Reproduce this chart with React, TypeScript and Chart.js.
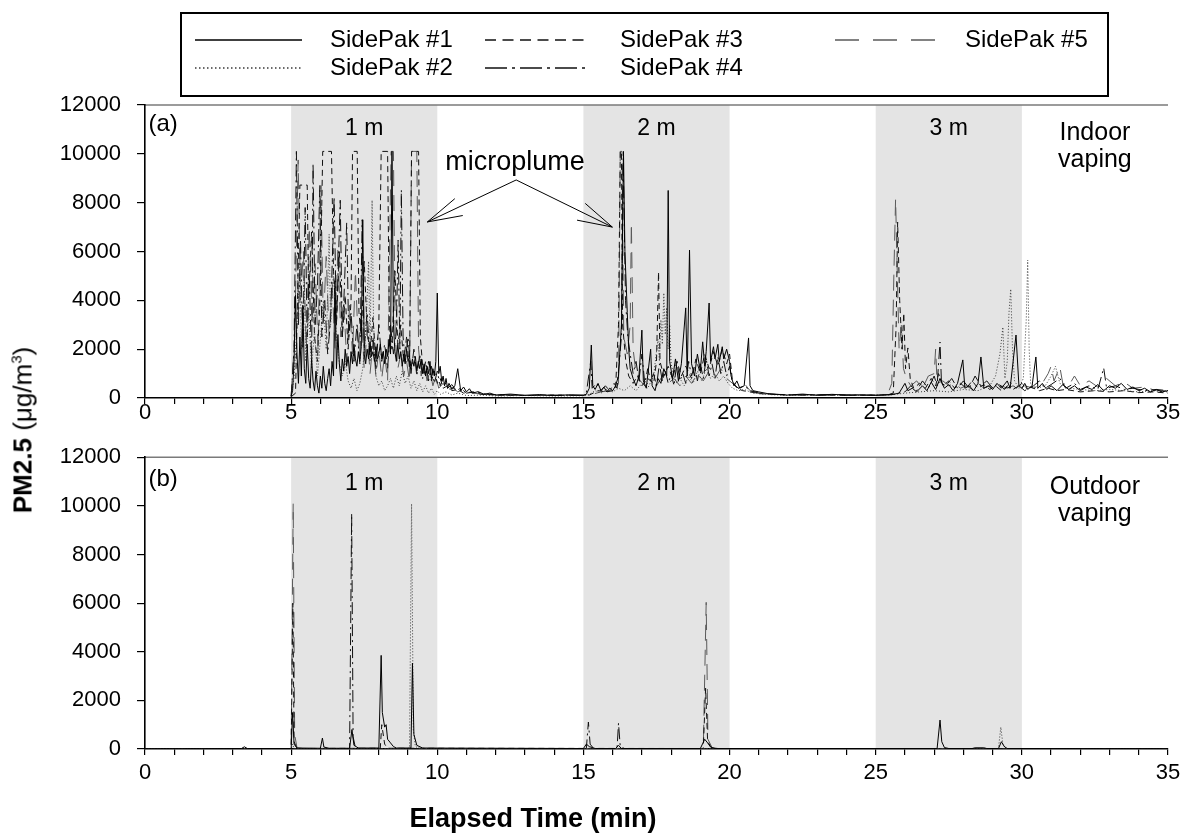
import React, { useEffect, useRef } from "react";
import { Chart, registerables } from "chart.js";

Chart.register(...registerables);

type Pt = [number, number];

// ---------------- data ----------------
const seriesNames = ["SidePak #1", "SidePak #2", "SidePak #3", "SidePak #4", "SidePak #5"];
const xMajorTicks = [0, 5, 10, 15, 20, 25, 30, 35];
const yTickValues = [0, 2000, 4000, 6000, 8000, 10000, 12000];
const bandRanges: Pt[] = [[5, 10], [15, 20], [25, 30]];
const bandLabels = ["1 m", "2 m", "3 m"];
const panelTags = ["(a)", "(b)"];
const indoorText = ["Indoor", "vaping"];
const outdoorText = ["Outdoor", "vaping"];
const calloutText = "microplume";
const xTitle = "Elapsed Time (min)";

// (a) indoor vaping — [minute, PM2.5 µg/m3]
const indoor1: Pt[] = [
  [5.0, 80], [5.05, 300], [5.1, 1500], [5.15, 4200], [5.2, 1800], [5.25, 600], [5.3, 2500], [5.35, 900], [5.4, 3800], [5.45, 1200],
  [5.5, 600], [5.55, 2200], [5.6, 800], [5.65, 400], [5.7, 1600], [5.75, 700], [5.8, 300], [5.85, 1100], [5.9, 500], [5.95, 200],
  [6.0, 900], [6.05, 400], [6.1, 1300], [6.15, 600], [6.2, 300], [6.25, 800], [6.3, 1200], [6.35, 500], [6.4, 1500], [6.45, 900],
  [6.5, 4800], [6.55, 1200], [6.6, 2600], [6.65, 1400], [6.7, 700], [6.75, 1600], [6.8, 1100], [6.85, 2000], [6.9, 1300], [6.95, 1700],
  [7.0, 1000], [7.05, 1900], [7.1, 1400], [7.15, 2200], [7.2, 1600], [7.25, 1300], [7.3, 1900], [7.35, 1500], [7.4, 2100], [7.45, 7300],
  [7.5, 1800], [7.55, 1400], [7.6, 2000], [7.65, 1600], [7.7, 2300], [7.75, 1700], [7.8, 1900], [7.85, 1500], [7.9, 2100], [7.95, 1600],
  [8.0, 1800], [8.05, 2200], [8.1, 1600], [8.15, 1900], [8.2, 1400], [8.25, 2000], [8.3, 1700], [8.35, 2400], [8.4, 1800], [8.45, 10100],
  [8.5, 3000], [8.55, 1900], [8.6, 1500], [8.65, 2200], [8.7, 1600], [8.75, 1900], [8.8, 1300], [8.85, 1800], [8.9, 1400], [8.95, 2000],
  [9.0, 1500], [9.05, 1700], [9.1, 1200], [9.15, 1600], [9.2, 1300], [9.25, 1700], [9.3, 1100], [9.35, 1500], [9.4, 1200], [9.45, 1600],
  [9.5, 1000], [9.55, 1400], [9.6, 900], [9.65, 1300], [9.7, 1000], [9.75, 1500], [9.8, 800], [9.85, 1200], [9.9, 900], [9.95, 1500],
  [10.0, 4300], [10.05, 1000], [10.1, 1300], [10.15, 700], [10.2, 900], [10.25, 500], [10.3, 800], [10.35, 400], [10.4, 600], [10.5, 350],
  [10.6, 500], [10.7, 1200], [10.8, 300], [10.9, 450], [11.0, 250], [11.1, 380], [11.2, 200], [11.4, 260], [11.6, 150], [11.8, 200],
  [12.0, 120], [12.5, 160], [13.0, 110], [13.5, 140], [14.0, 100], [14.5, 130], [15.0, 120],
  [15.1, 150], [15.2, 400], [15.27, 2170], [15.32, 500], [15.4, 350], [15.5, 600], [15.6, 300], [15.7, 450], [15.8, 250], [15.9, 400],
  [16.0, 300], [16.1, 500], [16.2, 900], [16.3, 3000], [16.37, 10100], [16.42, 6000], [16.5, 3500], [16.55, 2000], [16.6, 1200], [16.7, 800],
  [16.8, 500], [16.9, 900], [17.0, 2780], [17.05, 700], [17.15, 400], [17.3, 2000], [17.35, 500], [17.45, 300], [17.55, 800], [17.65, 600],
  [17.75, 1200], [17.85, 900], [17.9, 8500], [17.95, 1500], [18.05, 800], [18.15, 1600], [18.25, 700], [18.35, 1400], [18.5, 3690], [18.55, 900],
  [18.63, 6060], [18.7, 1400], [18.8, 900], [18.9, 1800], [19.0, 1100], [19.08, 2300], [19.15, 1300], [19.2, 1900], [19.3, 3890], [19.35, 1500],
  [19.45, 2100], [19.5, 1600], [19.6, 2200], [19.65, 1500], [19.75, 2100], [19.8, 1600], [19.9, 2000], [20.0, 1500], [20.05, 900], [20.15, 500],
  [20.25, 700], [20.35, 400], [20.5, 500], [20.65, 2460], [20.7, 500], [20.8, 300], [21.0, 250], [21.3, 180], [21.6, 150], [22.0, 120],
  [22.5, 160], [23.0, 110], [23.5, 150], [24.0, 120], [24.5, 130], [25.0, 110],
  [25.3, 130], [25.6, 150], [25.8, 200], [26.0, 600], [26.1, 300], [26.25, 400], [26.4, 250], [26.6, 500], [26.75, 300], [26.9, 650],
  [27.05, 350], [27.2, 800], [27.35, 400], [27.5, 550], [27.65, 300], [27.8, 600], [27.98, 1560], [28.05, 400], [28.2, 500], [28.35, 300],
  [28.5, 600], [28.6, 1680], [28.7, 400], [28.85, 500], [29.0, 350], [29.15, 600], [29.3, 400], [29.5, 700], [29.6, 400], [29.8, 2580],
  [29.9, 500], [30.0, 400], [30.1, 600], [30.2, 350], [30.35, 500], [30.48, 1680], [30.55, 400], [30.7, 600], [30.85, 350], [31.0, 500],
  [31.2, 300], [31.4, 550], [31.6, 350], [31.8, 500], [32.0, 300], [32.2, 450], [32.4, 350], [32.6, 550], [32.8, 300], [33.0, 500],
  [33.2, 400], [33.4, 600], [33.6, 350], [33.8, 450], [34.0, 300], [34.2, 400], [34.4, 250], [34.6, 350], [34.8, 250], [35.0, 300],
];

const indoor2: Pt[] = [
  [5.0, 60], [5.1, 800], [5.2, 3000], [5.3, 5500], [5.35, 2000], [5.45, 4800], [5.5, 1500], [5.6, 3500], [5.7, 1200], [5.8, 2800],
  [5.9, 900], [6.0, 2400], [6.1, 4000], [6.2, 2000], [6.3, 6700], [6.35, 3000], [6.45, 5200], [6.55, 2500], [6.65, 1400], [6.75, 900],
  [6.85, 1500], [6.95, 700], [7.05, 400], [7.15, 800], [7.25, 300], [7.35, 600], [7.45, 1200], [7.55, 2600], [7.65, 5600], [7.7, 2000],
  [7.77, 8100], [7.82, 3000], [7.9, 900], [8.0, 500], [8.1, 700], [8.2, 300], [8.3, 500], [8.4, 800], [8.5, 400], [8.6, 900],
  [8.7, 500], [8.8, 1100], [8.9, 600], [9.0, 900], [9.1, 400], [9.2, 700], [9.3, 300], [9.4, 600], [9.5, 250], [9.6, 500],
  [9.7, 200], [9.8, 400], [9.9, 150], [10.0, 300], [10.1, 150], [10.3, 250], [10.5, 120], [10.7, 200], [11.0, 100], [11.5, 120],
  [12.0, 80], [13.0, 100], [14.0, 80], [15.0, 90],
  [15.2, 150], [15.4, 300], [15.6, 200], [15.8, 350], [16.0, 250], [16.2, 400], [16.4, 300], [16.6, 500], [16.8, 300], [17.0, 600],
  [17.2, 400], [17.4, 900], [17.55, 2400], [17.6, 1500], [17.65, 3200], [17.7, 2200], [17.75, 4300], [17.8, 2600], [17.85, 3700], [17.9, 2000],
  [17.95, 3000], [18.0, 1400], [18.1, 900], [18.2, 600], [18.3, 800], [18.45, 500], [18.6, 900], [18.75, 600], [18.9, 1100], [19.05, 700],
  [19.2, 1200], [19.35, 800], [19.5, 1000], [19.65, 700], [19.8, 900], [19.95, 600], [20.1, 400], [20.3, 300], [20.5, 350], [20.8, 200],
  [21.2, 150], [22.0, 100], [23.0, 120], [24.0, 100], [25.0, 110],
  [25.5, 120], [26.0, 200], [26.5, 250], [27.0, 300], [27.5, 250], [28.0, 350], [28.5, 300], [28.9, 500], [29.1, 900], [29.25, 1800],
  [29.35, 2900], [29.42, 800], [29.5, 1500], [29.56, 3500], [29.62, 4460], [29.68, 2000], [29.75, 700], [29.9, 400], [30.05, 800], [30.15, 3200],
  [30.2, 5650], [30.25, 2000], [30.3, 600], [30.5, 400], [30.8, 500], [31.0, 900], [31.15, 1300], [31.3, 600], [31.6, 400], [32.0, 350],
  [32.5, 300], [33.0, 350], [33.5, 300], [34.0, 250], [34.5, 300], [35.0, 250],
];

const indoor3: Pt[] = [
  [5.0, 50], [5.15, 200], [5.2, 3000], [5.3, 8720], [5.55, 8720], [5.6, 4000], [5.7, 6800], [5.8, 2500], [5.9, 1500], [6.0, 4500],
  [6.08, 10100], [6.38, 10100], [6.45, 5200], [6.55, 3000], [6.65, 6000], [6.75, 2500], [6.85, 4200], [6.95, 2000], [7.05, 4000], [7.1, 10100],
  [7.26, 10100], [7.32, 3500], [7.4, 2500], [7.5, 5600], [7.6, 2800], [7.7, 1800], [7.8, 3300], [7.9, 1500], [8.0, 3000], [8.08, 10100],
  [8.3, 10100], [8.36, 3000], [8.45, 2000], [8.55, 5200], [8.65, 2200], [8.75, 3000], [8.85, 1500], [8.95, 2500], [9.05, 1200], [9.12, 10100],
  [9.36, 10100], [9.42, 2500], [9.5, 1300], [9.6, 900], [9.7, 1500], [9.8, 700], [9.9, 1100], [10.0, 600], [10.1, 800], [10.2, 400],
  [10.35, 500], [10.5, 300], [10.7, 350], [10.9, 200], [11.2, 250], [11.5, 150], [12.0, 120], [13.0, 100], [14.0, 120], [15.0, 100],
  [15.2, 120], [15.5, 300], [15.8, 250], [16.0, 300], [16.1, 400], [16.2, 3000], [16.26, 10100], [16.3, 10100], [16.34, 3000], [16.45, 1500],
  [16.55, 900], [16.7, 600], [16.85, 900], [17.0, 500], [17.2, 800], [17.4, 600], [17.5, 1500], [17.57, 5160], [17.62, 1500], [17.75, 900],
  [17.9, 1300], [18.05, 800], [18.2, 1500], [18.35, 900], [18.5, 1300], [18.7, 800], [18.85, 1600], [19.0, 1000], [19.15, 1800], [19.3, 1200],
  [19.45, 1900], [19.6, 1300], [19.75, 2000], [19.9, 1400], [20.0, 1800], [20.1, 700], [20.25, 400], [20.45, 300], [20.7, 250], [21.0, 180],
  [22.0, 120], [23.0, 130], [24.0, 110], [25.0, 120],
  [25.4, 130], [25.6, 200], [25.7, 3000], [25.75, 7200], [25.82, 4000], [25.9, 2000], [25.96, 3480], [26.02, 1200], [26.1, 2050], [26.18, 800],
  [26.3, 400], [26.5, 600], [26.7, 400], [26.9, 800], [27.05, 500], [27.15, 1000], [27.3, 500], [27.5, 700], [27.7, 400], [27.9, 600],
  [28.1, 400], [28.3, 700], [28.5, 400], [28.7, 550], [28.9, 350], [29.1, 500], [29.3, 300], [29.5, 450], [29.7, 350], [29.9, 500],
  [30.1, 300], [30.3, 450], [30.6, 300], [30.9, 400], [31.2, 300], [31.5, 350], [32.0, 250], [32.5, 300], [33.0, 250], [33.5, 300],
  [34.0, 220], [34.5, 250], [35.0, 200],
];

const indoor4: Pt[] = [
  [5.0, 70], [5.1, 2000], [5.18, 10100], [5.25, 3000], [5.32, 6500], [5.4, 2000], [5.48, 7800], [5.55, 2500], [5.62, 5000], [5.7, 1500],
  [5.75, 9600], [5.82, 3000], [5.9, 4500], [5.98, 8700], [6.05, 2500], [6.15, 4000], [6.25, 1800], [6.35, 3200], [6.47, 8230], [6.55, 3000],
  [6.68, 8100], [6.75, 2500], [6.82, 4500], [6.9, 7170], [6.97, 2500], [7.05, 3500], [7.15, 1500], [7.25, 3000], [7.35, 1400], [7.43, 7300],
  [7.5, 2000], [7.6, 3500], [7.7, 1500], [7.8, 2500], [7.9, 1200], [8.0, 3000], [8.1, 1500], [8.2, 2200], [8.3, 1200], [8.4, 3000],
  [8.5, 1800], [8.6, 2700], [8.66, 6470], [8.72, 2000], [8.77, 8520], [8.83, 2500], [8.9, 1500], [9.0, 2500], [9.1, 1000], [9.2, 2000],
  [9.3, 900], [9.4, 1800], [9.5, 800], [9.6, 1500], [9.7, 700], [9.8, 1300], [9.9, 600], [10.0, 1100], [10.1, 500], [10.2, 800],
  [10.35, 400], [10.5, 550], [10.65, 300], [10.8, 400], [11.0, 200], [11.3, 250], [11.7, 150], [12.2, 130], [13.0, 100], [14.0, 120],
  [15.0, 100],
  [15.1, 200], [15.25, 1500], [15.3, 400], [15.45, 600], [15.6, 300], [15.75, 500], [15.9, 300], [16.05, 600], [16.15, 400], [16.3, 2500],
  [16.36, 9800], [16.44, 4000], [16.52, 2500], [16.6, 1800], [16.7, 1000], [16.8, 1500], [16.9, 700], [17.0, 1800], [17.1, 600], [17.2, 1200],
  [17.3, 700], [17.4, 1000], [17.5, 500], [17.6, 1400], [17.7, 700], [17.8, 1100], [17.9, 600], [18.0, 1000], [18.1, 500], [18.2, 1500],
  [18.3, 700], [18.4, 1000], [18.5, 600], [18.6, 1500], [18.7, 900], [18.8, 1300], [18.9, 700], [19.0, 1400], [19.1, 800], [19.2, 1600],
  [19.3, 900], [19.4, 1400], [19.5, 800], [19.6, 1700], [19.7, 1000], [19.8, 1500], [19.9, 900], [20.0, 1300], [20.1, 600], [20.3, 400],
  [20.5, 500], [20.7, 300], [21.0, 200], [21.5, 150], [22.5, 120], [23.5, 140], [24.5, 110], [25.0, 120],
  [25.5, 130], [26.0, 250], [26.2, 500], [26.4, 300], [26.6, 700], [26.8, 400], [27.0, 900], [27.1, 500], [27.2, 2290], [27.25, 600],
  [27.4, 500], [27.6, 800], [27.8, 400], [28.0, 700], [28.2, 400], [28.4, 900], [28.6, 500], [28.8, 700], [29.0, 400], [29.2, 600],
  [29.4, 350], [29.6, 650], [29.8, 400], [30.0, 600], [30.2, 350], [30.4, 500], [30.6, 700], [30.8, 400], [31.0, 550], [31.3, 800],
  [31.5, 400], [31.8, 600], [32.0, 350], [32.3, 500], [32.6, 350], [32.8, 1230], [32.9, 400], [33.2, 500], [33.5, 350], [33.8, 400],
  [34.2, 300], [34.6, 350], [35.0, 300],
];

const indoor5: Pt[] = [
  [5.0, 60], [5.12, 2500], [5.24, 9750], [5.32, 4000], [5.42, 6000], [5.52, 2000], [5.62, 7000], [5.72, 3000], [5.82, 5500], [5.92, 2000],
  [6.02, 8700], [6.1, 3000], [6.2, 5800], [6.3, 2500], [6.4, 4800], [6.5, 2000], [6.6, 6200], [6.7, 2500], [6.8, 4000], [6.9, 1500],
  [7.0, 3800], [7.1, 1800], [7.2, 5200], [7.3, 2000], [7.4, 3500], [7.5, 1200], [7.6, 2800], [7.7, 1000], [7.8, 2300], [7.9, 900],
  [8.0, 2000], [8.1, 800], [8.2, 1800], [8.3, 700], [8.42, 10100], [8.5, 10100], [8.56, 2500], [8.65, 1200], [8.75, 1800], [8.85, 900],
  [8.95, 1500], [9.05, 700], [9.12, 10100], [9.3, 10100], [9.36, 2000], [9.45, 900], [9.55, 1400], [9.65, 700], [9.75, 1100], [9.85, 500],
  [9.95, 900], [10.05, 400], [10.2, 600], [10.35, 300], [10.5, 450], [10.7, 250], [10.9, 350], [11.2, 200], [11.6, 150], [12.0, 120],
  [13.0, 110], [14.0, 100], [15.0, 110],
  [15.3, 150], [15.6, 250], [15.9, 300], [16.1, 350], [16.2, 600], [16.26, 10100], [16.32, 10100], [16.38, 2500], [16.5, 1800], [16.6, 3000],
  [16.64, 7170], [16.7, 2000], [16.8, 1000], [16.95, 700], [17.1, 500], [17.3, 700], [17.5, 500], [17.7, 900], [17.9, 600], [18.1, 800],
  [18.3, 500], [18.5, 900], [18.7, 600], [18.9, 1000], [19.1, 700], [19.3, 1100], [19.5, 800], [19.7, 1200], [19.9, 800], [20.1, 600],
  [20.3, 400], [20.5, 600], [20.7, 300], [21.0, 200], [21.5, 150], [22.5, 130], [23.5, 110], [24.5, 120], [25.0, 110],
  [25.4, 120], [25.55, 600], [25.62, 5000], [25.68, 8150], [25.74, 5000], [25.8, 2000], [25.88, 3000], [25.95, 1200], [26.05, 800], [26.2, 500],
  [26.4, 700], [26.6, 400], [26.8, 900], [27.0, 1000], [27.05, 2000], [27.1, 600], [27.3, 700], [27.5, 500], [27.7, 600], [27.9, 400],
  [28.1, 500], [28.3, 350], [28.5, 600], [28.7, 400], [28.9, 500], [29.1, 350], [29.3, 500], [29.5, 400], [29.7, 500], [29.9, 350],
  [30.1, 500], [30.4, 400], [30.7, 600], [30.9, 1000], [31.0, 1300], [31.1, 700], [31.3, 1270], [31.4, 600], [31.6, 500], [31.8, 900],
  [32.0, 500], [32.3, 700], [32.6, 450], [32.9, 800], [33.2, 500], [33.5, 650], [33.8, 400], [34.2, 450], [34.6, 300], [35.0, 300],
];

// (b) outdoor vaping
const outdoor1: Pt[] = [
  [0, 10], [3.3, 20], [3.4, 90], [3.5, 20], [5.0, 20], [5.05, 1500], [5.1, 200], [5.2, 40], [6.0, 30], [6.07, 450],
  [6.12, 80], [6.3, 30], [7.0, 30], [7.08, 800], [7.15, 150], [7.3, 40], [8.0, 40], [8.08, 3850], [8.12, 1500], [8.2, 900],
  [8.25, 1000], [8.3, 400], [8.4, 250], [8.5, 100], [8.6, 40], [9.1, 40], [9.15, 3530], [9.2, 600], [9.3, 150], [9.5, 40],
  [15.0, 20], [15.1, 200], [15.2, 100], [15.4, 20], [16.1, 20], [16.2, 150], [16.3, 20], [19.0, 20], [19.15, 400], [19.25, 250],
  [19.35, 80], [19.5, 20], [27.1, 20], [27.2, 1190], [27.26, 300], [27.35, 60], [27.5, 20], [28.3, 20], [28.4, 50], [28.7, 50],
  [28.8, 20], [29.2, 20], [29.3, 300], [29.4, 100], [29.5, 20], [35.0, 15],
];
const outdoor2: Pt[] = [
  [0, 10], [5.0, 15], [5.05, 200], [5.1, 20], [9.05, 20], [9.12, 10080], [9.18, 800], [9.25, 100], [9.4, 20], [29.2, 20],
  [29.28, 900], [29.35, 200], [29.45, 20], [35.0, 10],
];
const outdoor3: Pt[] = [
  [0, 10], [5.0, 20], [5.06, 6000], [5.1, 300], [5.2, 20], [8.05, 30], [8.1, 1000], [8.2, 200], [8.3, 30], [19.1, 20],
  [19.18, 2500], [19.25, 300], [19.4, 20], [35.0, 10],
];
const outdoor4: Pt[] = [
  [0, 10], [7.0, 20], [7.07, 9680], [7.12, 500], [7.2, 50], [7.4, 20], [15.1, 20], [15.17, 1110], [15.23, 200], [15.35, 20],
  [16.15, 20], [16.2, 1060], [16.26, 100], [16.4, 20], [35.0, 10],
];
const outdoor5: Pt[] = [
  [0, 10], [5.0, 20], [5.07, 10100], [5.12, 600], [5.2, 50], [5.4, 20], [19.1, 20], [19.2, 6030], [19.26, 400], [19.4, 60],
  [19.6, 20], [35.0, 10],
];

const indoorSeries = [indoor1, indoor2, indoor3, indoor4, indoor5];
const outdoorSeries = [outdoor1, outdoor2, outdoor3, outdoor4, outdoor5];

// ---------------- styles / layout ----------------
const FONT = '"Liberation Sans", Arial, Helvetica, sans-serif';
const lineDashes = [[], [1, 2], [6, 4], [12, 4, 2, 4], [16, 9]];
const lineColors = ["#000000", "#3a3a3a", "#111111", "#111111", "#5a5a5a"];
const legendDashes = [[], [1.5, 2.5], [11, 6.5], [22, 5, 3, 5], [24, 14]];
const W = 1194;
const H = 834;
const SPLIT = 428;
const PLOT_LEFT = 145;
const PLOT_RIGHT_PAD = 26;

const LEG = {
  x0: 181, y0: 13, x1: 1108, y1: 96,
  rows: [40, 68],
  cols: [[195, 302, 330], [485, 590, 620], [835, 935, 965]],
  size: 24,
};

function txt(ctx: CanvasRenderingContext2D, s: string, x: number, y: number, size: number, align: CanvasTextAlign = "center") {
  ctx.font = `${size}px ${FONT}`;
  ctx.fillStyle = "#000";
  ctx.textAlign = align;
  ctx.textBaseline = "middle";
  ctx.fillText(s, x, y);
}

function arrow(ctx: CanvasRenderingContext2D, x0: number, y0: number, x1: number, y1: number) {
  const ang = Math.atan2(y0 - y1, x0 - x1);
  const len = 36;
  const spread = (15 * Math.PI) / 180;
  ctx.beginPath();
  ctx.moveTo(x0, y0);
  ctx.lineTo(x1, y1);
  ctx.moveTo(x1 + len * Math.cos(ang - spread), y1 + len * Math.sin(ang - spread));
  ctx.lineTo(x1, y1);
  ctx.lineTo(x1 + len * Math.cos(ang + spread), y1 + len * Math.sin(ang + spread));
  ctx.stroke();
}

type PanelCfg = {
  tag: string;
  side: string[];
  tagY: number;
  bandY: number;
  sideY: number[];
  legend: boolean;
  callout: boolean;
  tickPad: number;
};

function makeChart(canvas: HTMLCanvasElement, series: Pt[][], padTop: number, xAxisH: number, cfg: PanelCfg) {
  const bandPlugin = {
    id: "bands",
    beforeDraw(chart: any) {
      const { ctx, chartArea, scales } = chart;
      const { top, bottom, left, right } = chartArea;
      ctx.save();
      ctx.fillStyle = "#e4e4e4";
      bandRanges.forEach(([a, b]) => {
        const x0 = scales.x.getPixelForValue(a);
        const x1 = scales.x.getPixelForValue(b);
        ctx.fillRect(x0, top, x1 - x0, bottom - top);
      });
      ctx.strokeStyle = "#7a7a7a";
      ctx.lineWidth = 1.5;
      ctx.beginPath();
      ctx.moveTo(left, top);
      ctx.lineTo(right, top);
      ctx.stroke();
      ctx.restore();
    },
  };

  const notePlugin = {
    id: "notes",
    afterDraw(chart: any) {
      const { ctx, scales } = chart;
      const X = (v: number) => scales.x.getPixelForValue(v);
      const Y = (v: number) => scales.y.getPixelForValue(v);
      ctx.save();
      txt(ctx, cfg.tag, X(0.12), Y(cfg.tagY), 24, "left");
      bandRanges.forEach(([a, b], i) => txt(ctx, bandLabels[i], X((a + b) / 2), Y(cfg.bandY), 23));
      cfg.side.forEach((s, i) => txt(ctx, s, X(32.5), Y(cfg.sideY[i]), 25));
      if (cfg.callout) {
        txt(ctx, calloutText, X(10.27), Y(9650), 27, "left");
        ctx.strokeStyle = "#000";
        ctx.lineWidth = 1;
        ctx.setLineDash([]);
        arrow(ctx, X(12.7), Y(8930), X(9.66), Y(7210));
        arrow(ctx, X(12.7), Y(8930), X(15.99), Y(7000));
      }
      if (cfg.legend) {
        ctx.setLineDash([]);
        ctx.strokeStyle = "#000";
        ctx.lineWidth = 2;
        ctx.strokeRect(LEG.x0, LEG.y0, LEG.x1 - LEG.x0, LEG.y1 - LEG.y0);
        chart.data.datasets.forEach((ds: any, i: number) => {
          const col = Math.floor(i / 2);
          const row = i % 2;
          const y = LEG.rows[row];
          const [lx0, lx1, tx] = LEG.cols[col];
          ctx.beginPath();
          ctx.setLineDash(legendDashes[i]);
          ctx.strokeStyle = ds.borderColor;
          ctx.lineWidth = 1.3;
          ctx.moveTo(lx0, y);
          ctx.lineTo(lx1, y);
          ctx.stroke();
          ctx.setLineDash([]);
          txt(ctx, ds.label, tx, y, LEG.size, "left");
        });
      }
      ctx.restore();
    },
  };

  const tickFont = { family: FONT, size: 22 };
  return new Chart(canvas, {
    type: "line",
    data: {
      datasets: series.map((pts, i) => ({
        label: seriesNames[i],
        data: pts.map(([x, y]) => ({ x, y })),
        borderColor: lineColors[i],
        borderDash: lineDashes[i],
        borderWidth: 1,
        pointRadius: 0,
        tension: 0,
        fill: false,
      })),
    },
    options: {
      animation: false,
      responsive: false,
      events: [],
      layout: { padding: { left: 0, right: PLOT_RIGHT_PAD, top: padTop, bottom: 0 } },
      plugins: { legend: { display: false }, tooltip: { enabled: false } },
      scales: {
        x: {
          type: "linear",
          min: 0,
          max: 35,
          afterFit: (s: any) => { s.height = xAxisH; },
          afterBuildTicks: (s: any) => {
            s.ticks = Array.from({ length: 36 }, (_, v) => ({ value: v }));
          },
          ticks: {
            autoSkip: false,
            maxRotation: 0,
            padding: cfg.tickPad,
            color: "#000",
            font: tickFont,
            callback: (v: any) => (xMajorTicks.includes(Number(v)) ? String(v) : ""),
          },
          grid: { drawOnChartArea: false, drawTicks: true, tickLength: 6, color: "#000", lineWidth: 1.2 },
          border: { display: true, color: "#000", width: 1.6 },
        },
        y: {
          type: "linear",
          min: 0,
          max: 12000,
          afterFit: (s: any) => { s.width = PLOT_LEFT; },
          afterBuildTicks: (s: any) => { s.ticks = yTickValues.map((v) => ({ value: v })); },
          ticks: { padding: 16, color: "#000", font: tickFont, callback: (v: any) => String(v) },
          grid: { drawOnChartArea: false, drawTicks: true, tickLength: 8, color: "#000", lineWidth: 1.2 },
          border: { display: true, color: "#000", width: 1.6 },
        },
      },
    } as any,
    plugins: [bandPlugin, notePlugin],
  });
}

export default function App() {
  const refA = useRef<HTMLCanvasElement>(null);
  const refB = useRef<HTMLCanvasElement>(null);

  useEffect(() => {
    const a = makeChart(refA.current!, indoorSeries, 105, SPLIT - 398, {
      tag: panelTags[0], side: indoorText, tagY: 11200, bandY: 11050, sideY: [10850, 9750], legend: true, callout: true, tickPad: -4,
    });
    const b = makeChart(refB.current!, outdoorSeries, 0, H - 749, {
      tag: panelTags[1], side: outdoorText, tagY: 11100, bandY: 10900, sideY: [10770, 9670], legend: false, callout: false, tickPad: 5,
    });
    return () => { a.destroy(); b.destroy(); };
  }, []);

  return (
    <div style={{ position: "absolute", left: 0, top: 0, width: W, height: H, background: "#fff", overflow: "hidden" }}>
      <canvas ref={refA} width={W} height={SPLIT} style={{ position: "absolute", left: 0, top: 0, width: W, height: SPLIT }} />
      <canvas ref={refB} width={W} height={H - SPLIT} style={{ position: "absolute", left: 0, top: SPLIT, width: W, height: H - SPLIT }} />
      <div
        style={{
          position: "absolute", left: 23, top: 430, transform: "translate(-50%, -50%) rotate(-90deg)",
          whiteSpace: "nowrap", fontFamily: FONT, fontSize: 26, color: "#000",
        }}
      >
        <b>PM2.5</b> (μg/m<sup style={{ fontSize: 15 }}>3</sup>)
      </div>
      <div
        style={{
          position: "absolute", left: 533, top: 818, transform: "translate(-50%, -50%)",
          whiteSpace: "nowrap", fontFamily: FONT, fontSize: 27, fontWeight: "bold", color: "#000",
        }}
      >
        {xTitle}
      </div>
    </div>
  );
}
